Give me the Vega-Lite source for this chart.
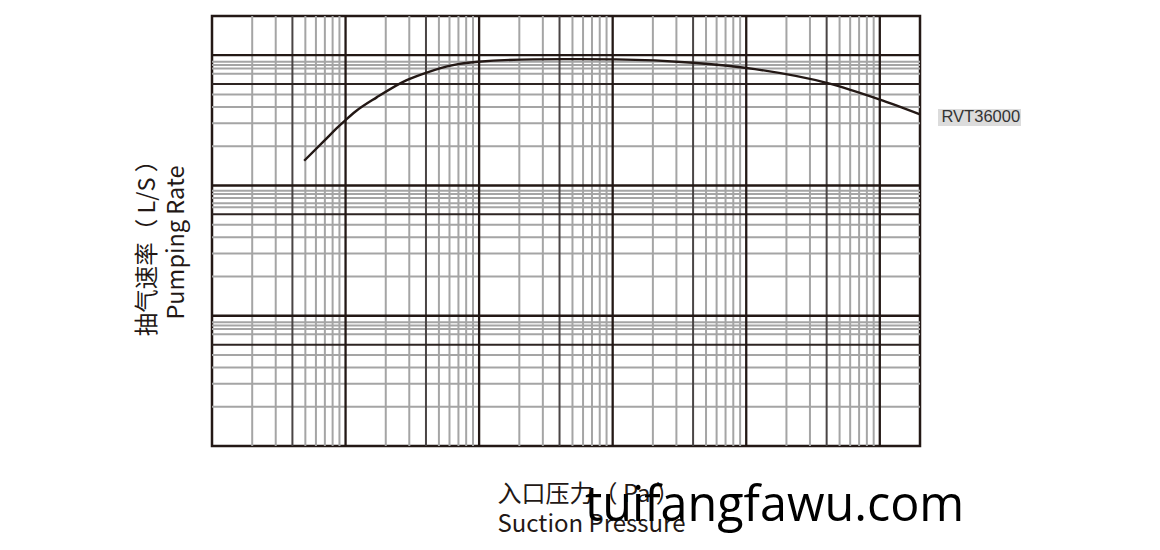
{
  "$schema": "https://vega.github.io/schema/vega-lite/v6.json",
  "width": 708,
  "height": 430,
  "autosize": {"type": "none"},
  "padding": {"left": 212, "top": 16, "right": 240, "bottom": 104},
  "background": "white",
  "config": {"view": {"stroke": "#231815", "strokeWidth": 2.5}},
  "title": {"text": "tuifangfawu.com", "orient": "top", "anchor": "start", "frame": "group", "dx": 373, "dy": 555, "offset": 0, "baseline": "alphabetic", "font": "Open Sans", "fontSize": 48.5, "fontWeight": "normal", "color": "#000000"},
  "datasets": {
    "grid": [
      {"axis": "x", "kind": "minor", "v": 0.2}, {"axis": "x", "kind": "minor", "v": 0.3}, {"axis": "x", "kind": "minor", "v": 0.5}, {"axis": "x", "kind": "minor", "v": 0.6}, {"axis": "x", "kind": "minor", "v": 0.7}, {"axis": "x", "kind": "minor", "v": 0.8}, {"axis": "x", "kind": "minor", "v": 0.9},
      {"axis": "x", "kind": "minor", "v": 2}, {"axis": "x", "kind": "minor", "v": 3}, {"axis": "x", "kind": "minor", "v": 5}, {"axis": "x", "kind": "minor", "v": 6}, {"axis": "x", "kind": "minor", "v": 7}, {"axis": "x", "kind": "minor", "v": 8}, {"axis": "x", "kind": "minor", "v": 9},
      {"axis": "x", "kind": "minor", "v": 20}, {"axis": "x", "kind": "minor", "v": 30}, {"axis": "x", "kind": "minor", "v": 50}, {"axis": "x", "kind": "minor", "v": 60}, {"axis": "x", "kind": "minor", "v": 70}, {"axis": "x", "kind": "minor", "v": 80}, {"axis": "x", "kind": "minor", "v": 90},
      {"axis": "x", "kind": "minor", "v": 200}, {"axis": "x", "kind": "minor", "v": 300}, {"axis": "x", "kind": "minor", "v": 500}, {"axis": "x", "kind": "minor", "v": 600}, {"axis": "x", "kind": "minor", "v": 700}, {"axis": "x", "kind": "minor", "v": 800}, {"axis": "x", "kind": "minor", "v": 900},
      {"axis": "x", "kind": "minor", "v": 2000}, {"axis": "x", "kind": "minor", "v": 3000}, {"axis": "x", "kind": "minor", "v": 5000}, {"axis": "x", "kind": "minor", "v": 6000}, {"axis": "x", "kind": "minor", "v": 7000}, {"axis": "x", "kind": "minor", "v": 8000}, {"axis": "x", "kind": "minor", "v": 9000},
      {"axis": "x", "kind": "mid", "v": 0.4}, {"axis": "x", "kind": "mid", "v": 4}, {"axis": "x", "kind": "mid", "v": 40}, {"axis": "x", "kind": "mid", "v": 400}, {"axis": "x", "kind": "mid", "v": 4000},
      {"axis": "x", "kind": "major", "v": 1}, {"axis": "x", "kind": "major", "v": 10}, {"axis": "x", "kind": "major", "v": 100}, {"axis": "x", "kind": "major", "v": 1000}, {"axis": "x", "kind": "major", "v": 10000},
      {"axis": "y", "kind": "minor", "v": 20}, {"axis": "y", "kind": "minor", "v": 30}, {"axis": "y", "kind": "minor", "v": 40}, {"axis": "y", "kind": "minor", "v": 50}, {"axis": "y", "kind": "minor", "v": 72}, {"axis": "y", "kind": "minor", "v": 79}, {"axis": "y", "kind": "minor", "v": 84}, {"axis": "y", "kind": "minor", "v": 89},
      {"axis": "y", "kind": "minor", "v": 200}, {"axis": "y", "kind": "minor", "v": 300}, {"axis": "y", "kind": "minor", "v": 400}, {"axis": "y", "kind": "minor", "v": 500}, {"axis": "y", "kind": "minor", "v": 680}, {"axis": "y", "kind": "minor", "v": 730}, {"axis": "y", "kind": "minor", "v": 800}, {"axis": "y", "kind": "minor", "v": 860}, {"axis": "y", "kind": "minor", "v": 910},
      {"axis": "y", "kind": "minor", "v": 2000}, {"axis": "y", "kind": "minor", "v": 3000}, {"axis": "y", "kind": "minor", "v": 4000}, {"axis": "y", "kind": "minor", "v": 5000}, {"axis": "y", "kind": "minor", "v": 7200}, {"axis": "y", "kind": "minor", "v": 7900}, {"axis": "y", "kind": "minor", "v": 8400}, {"axis": "y", "kind": "minor", "v": 8900},
      {"axis": "y", "kind": "mid", "v": 60}, {"axis": "y", "kind": "mid", "v": 600}, {"axis": "y", "kind": "mid", "v": 6000},
      {"axis": "y", "kind": "major", "v": 100}, {"axis": "y", "kind": "major", "v": 1000}, {"axis": "y", "kind": "major", "v": 10000}
    ],
    "curve": [
      {"model": "RVT36000", "pressure": 0.49, "rate": 1548},
      {"model": "RVT36000", "pressure": 0.70, "rate": 2230},
      {"model": "RVT36000", "pressure": 0.88, "rate": 2820},
      {"model": "RVT36000", "pressure": 1.0, "rate": 3177},
      {"model": "RVT36000", "pressure": 1.18, "rate": 3680},
      {"model": "RVT36000", "pressure": 1.71, "rate": 4745},
      {"model": "RVT36000", "pressure": 2.87, "rate": 6440},
      {"model": "RVT36000", "pressure": 4.0, "rate": 7330},
      {"model": "RVT36000", "pressure": 6.37, "rate": 8395},
      {"model": "RVT36000", "pressure": 9.8, "rate": 8900},
      {"model": "RVT36000", "pressure": 25.3, "rate": 9290},
      {"model": "RVT36000", "pressure": 56.9, "rate": 9330},
      {"model": "RVT36000", "pressure": 106, "rate": 9290},
      {"model": "RVT36000", "pressure": 399, "rate": 8745},
      {"model": "RVT36000", "pressure": 1164, "rate": 7820},
      {"model": "RVT36000", "pressure": 4141, "rate": 6080},
      {"model": "RVT36000", "pressure": 9910, "rate": 4580},
      {"model": "RVT36000", "pressure": 20000, "rate": 3515}
    ]
  },
  "layer": [
    {
      "data": {"name": "grid"},
      "transform": [{"filter": "datum.axis === 'x' && datum.kind === 'minor'"}],
      "mark": {"type": "rule", "color": "#a5a5a5", "strokeWidth": 2},
      "encoding": {"x": {"field": "v", "type": "quantitative", "scale": {"type": "log", "domain": [0.1, 20000], "nice": false}}}
    },
    {
      "data": {"name": "grid"},
      "transform": [{"filter": "datum.axis === 'y' && datum.kind === 'minor'"}],
      "mark": {"type": "rule", "color": "#a5a5a5", "strokeWidth": 2},
      "encoding": {"y": {"field": "v", "type": "quantitative", "scale": {"type": "log", "domain": [10, 20000], "nice": false}}}
    },
    {
      "data": {"name": "grid"},
      "transform": [{"filter": "datum.axis === 'x' && datum.kind === 'mid'"}],
      "mark": {"type": "rule", "color": "#4a4545", "strokeWidth": 2},
      "encoding": {"x": {"field": "v", "type": "quantitative", "scale": {"type": "log", "domain": [0.1, 20000], "nice": false}}}
    },
    {
      "data": {"name": "grid"},
      "transform": [{"filter": "datum.axis === 'y' && datum.kind === 'mid'"}],
      "mark": {"type": "rule", "color": "#2e2523", "strokeWidth": 2},
      "encoding": {"y": {"field": "v", "type": "quantitative", "scale": {"type": "log", "domain": [10, 20000], "nice": false}}}
    },
    {
      "data": {"name": "grid"},
      "transform": [{"filter": "datum.axis === 'x' && datum.kind === 'major'"}],
      "mark": {"type": "rule", "color": "#231815", "strokeWidth": 2.3},
      "encoding": {"x": {"field": "v", "type": "quantitative", "scale": {"type": "log", "domain": [0.1, 20000], "nice": false}}}
    },
    {
      "data": {"name": "grid"},
      "transform": [{"filter": "datum.axis === 'y' && datum.kind === 'major'"}],
      "mark": {"type": "rule", "color": "#231815", "strokeWidth": 2.3},
      "encoding": {"y": {"field": "v", "type": "quantitative", "scale": {"type": "log", "domain": [10, 20000], "nice": false}}}
    },
    {
      "data": {"name": "curve"},
      "mark": {"type": "line", "interpolate": "monotone", "strokeWidth": 2.4},
      "encoding": {
        "x": {"field": "pressure", "type": "quantitative", "scale": {"type": "log", "domain": [0.1, 20000], "nice": false},
          "axis": {"title": ["入口压力（ Pa ）", "Suction Pressure"], "domain": false, "ticks": false, "labels": false, "grid": false,
            "titleFont": "Noto Sans CJK SC", "titleFontSize": 24, "titleFontWeight": "normal", "titleColor": "#231815",
            "titleAlign": "left", "titleX": 285, "titleY": 36, "titleBaseline": "top", "titleLineHeight": 30}},
        "y": {"field": "rate", "type": "quantitative", "scale": {"type": "log", "domain": [10, 20000], "nice": false},
          "axis": {"title": ["抽气速率（ L/S ）", "Pumping Rate"], "domain": false, "ticks": false, "labels": false, "grid": false,
            "titleFont": "Noto Sans CJK SC", "titleFontSize": 23.5, "titleFontWeight": "normal", "titleColor": "#231815",
            "titleAlign": "center", "titleAngle": -90, "titleX": -77, "titleY": 226, "titleBaseline": "top", "titleLineHeight": 29}},
        "color": {"field": "model", "type": "nominal", "scale": {"range": ["#231815"]},
          "legend": {"title": null, "orient": "none", "legendX": 726, "legendY": 93, "fillColor": "#dcdcdc", "padding": 0,
            "symbolSize": 0, "symbolStrokeWidth": 0, "symbolOpacity": 0, "symbolType": "circle", "labelOffset": -13,
            "labelFont": "Liberation Sans", "labelFontSize": 16.5, "labelColor": "#333333"}}
      }
    }
  ]
}
